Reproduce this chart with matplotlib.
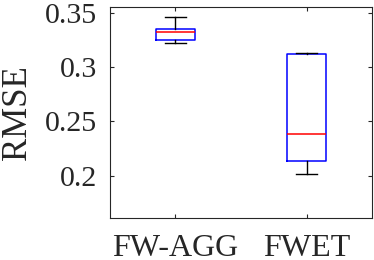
import matplotlib
matplotlib.use("Agg")
import matplotlib.pyplot as plt

methods = ["FW-AGG", "FWET"]
whisker_low = [0.3218, 0.2018]
q1 = [0.3251, 0.2135]
median = [0.3319, 0.2387]
q3 = [0.3353, 0.3117]
whisker_high = [0.3463, 0.3132]

yticks = [0.2, 0.25, 0.3, 0.35]
ytick_labels = ["0.2", "0.25", "0.3", "0.35"]

plt.rcParams["font.family"] = "serif"
plt.rcParams["font.serif"] = ["Liberation Serif"]

fig = plt.figure(figsize=(3.74, 2.60), dpi=100)
ax = fig.add_axes([0.294, 0.160, 0.701, 0.814])

stats = []
for i, name in enumerate(methods):
    stats.append({
        "label": name,
        "whislo": whisker_low[i],
        "q1": q1[i],
        "med": median[i],
        "q3": q3[i],
        "whishi": whisker_high[i],
        "fliers": [],
    })

ax.bxp(
    stats,
    positions=[1, 2],
    widths=0.3,
    showfliers=False,
    boxprops=dict(color="blue", linewidth=1.1),
    medianprops=dict(color="red", linewidth=1.1),
    whiskerprops=dict(color="black", linewidth=1.0),
    capprops=dict(color="black", linewidth=1.0),
    capwidths=0.165,
)

ax.set_xlim(0.5, 2.5)
ax.set_ylim(0.1608, 0.3555)
ax.set_yticks(yticks)
ax.set_yticklabels(ytick_labels)
ax.set_xticks([1, 2])
ax.set_xticklabels(methods)
ax.set_ylabel("RMSE", fontsize=25, color="#262626", labelpad=8)

ax.tick_params(direction="in", length=3, width=0.8, top=True, right=True,
               labelsize=21.5, colors="#262626")
ax.tick_params(axis="y", pad=9.5)
ax.tick_params(axis="x", pad=11, labelsize=23)
for sp in ax.spines.values():
    sp.set_color("#262626")
    sp.set_linewidth(0.8)

fig.savefig("out.png", dpi=100)
plt.close(fig)
